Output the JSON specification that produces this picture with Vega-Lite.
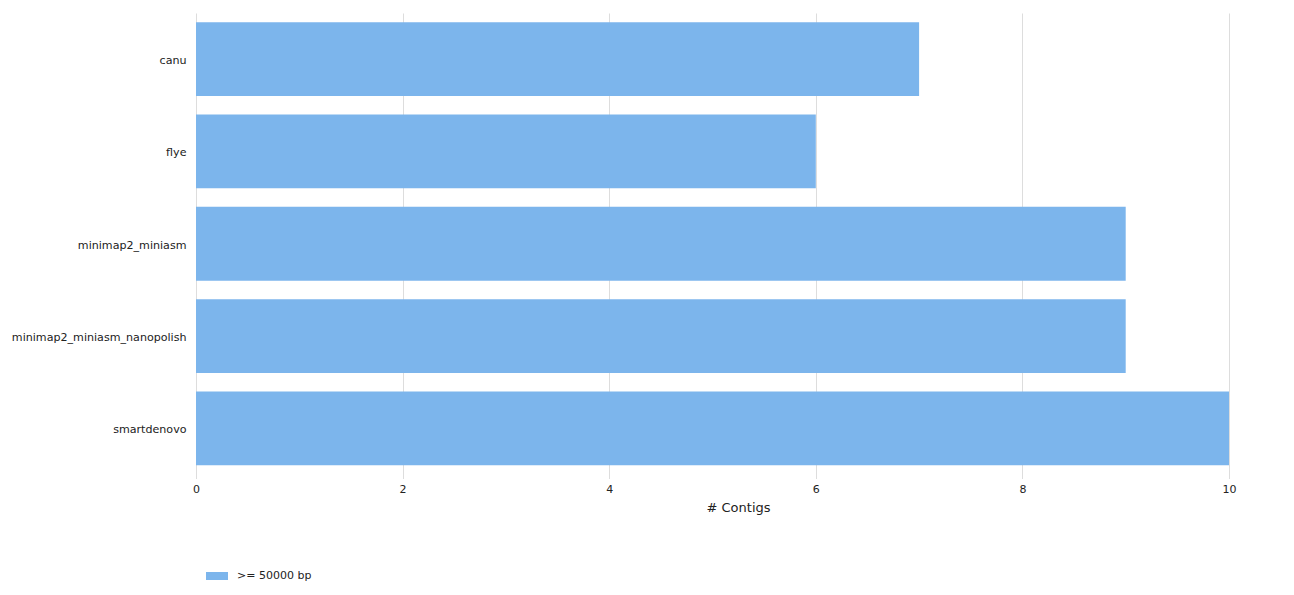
{
  "$schema": "https://vega.github.io/schema/vega-lite/v6.json",
  "autosize": "none",
  "width": 1033,
  "height": 461.5,
  "padding": {"left": 196, "top": 13, "right": 65, "bottom": 120},
  "background": "white",
  "config": {
    "font": "DejaVu Sans",
    "view": {"stroke": null}
  },
  "data": {
    "values": [
      {"assembler": "canu", "contigs": 7, "series": ">= 50000 bp"},
      {"assembler": "flye", "contigs": 6, "series": ">= 50000 bp"},
      {"assembler": "minimap2_miniasm", "contigs": 9, "series": ">= 50000 bp"},
      {"assembler": "minimap2_miniasm_nanopolish", "contigs": 9, "series": ">= 50000 bp"},
      {"assembler": "smartdenovo", "contigs": 10, "series": ">= 50000 bp"}
    ]
  },
  "mark": {"type": "bar"},
  "encoding": {
    "y": {
      "field": "assembler",
      "type": "nominal",
      "sort": null,
      "scale": {"paddingInner": 0.2, "paddingOuter": 0.1},
      "axis": {
        "title": null,
        "domain": false,
        "ticks": false,
        "grid": false,
        "labelPadding": 10,
        "labelOffset": 2,
        "labelFontSize": 11.1,
        "labelColor": "#222222",
        "labelFont": "DejaVu Sans"
      }
    },
    "x": {
      "field": "contigs",
      "type": "quantitative",
      "scale": {"domain": [0, 10], "nice": false},
      "axis": {
        "title": "# Contigs",
        "values": [0, 2, 4, 6, 8, 10],
        "domain": false,
        "ticks": true,
        "tickSize": 4,
        "tickColor": "#dddddd",
        "grid": true,
        "gridColor": "#dddddd",
        "labelFlush": false,
        "labelFontSize": 11,
        "labelColor": "#222222",
        "labelPadding": 5,
        "titleFontSize": 13,
        "titleFontWeight": "normal",
        "titleColor": "#222222",
        "titleX": 542,
        "titleY": 33,
        "titleBaseline": "middle",
        "titleAlign": "center"
      }
    },
    "color": {
      "field": "series",
      "type": "nominal",
      "scale": {"range": ["#7cb5ec"]},
      "legend": {
        "title": null,
        "orient": "none",
        "legendX": 10,
        "legendY": 552,
        "symbolType": "M-1,-0.364H1V0.364H-1Z",
        "symbolSize": 484,
        "symbolStrokeWidth": 0,
        "labelFontSize": 11,
        "labelColor": "#222222",
        "labelOffset": 9
      }
    }
  }
}
